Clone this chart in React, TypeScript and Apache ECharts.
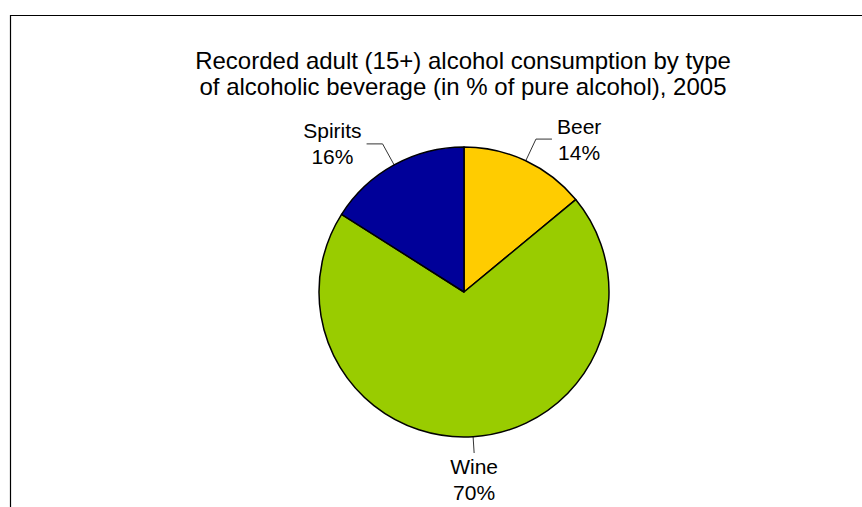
import React, { useEffect, useRef } from 'react';
import * as echarts from 'echarts';

const categories = ['Beer', 'Wine', 'Spirits'];
const shares = [14, 70, 16];
const sliceColors = ['#FFCC00', '#99CC00', '#000099'];
const titleLines = [
  'Recorded adult (15+) alcohol consumption by type',
  'of alcoholic beverage (in % of pure alcohol), 2005',
];

const FONT = '"Liberation Sans", Arial, Helvetica, sans-serif';

export default function App() {
  const ref = useRef<HTMLDivElement>(null);
  useEffect(() => {
    const chart = echarts.init(ref.current!, null, { renderer: 'svg' });
    chart.setOption({
      animation: false,
      backgroundColor: '#ffffff',
      title: {
        text: titleLines.join('\n'),
        left: 458,
        top: 42,
        textAlign: 'center',
        textStyle: {
          fontFamily: FONT,
          fontSize: 24,
          lineHeight: 26,
          fontWeight: 'normal',
          color: '#000',
        },
      },
      graphic: [
        {
          type: 'rect',
          shape: { x: 10.5, y: 15.5, width: 900, height: 600 },
          style: { fill: 'none', stroke: '#000', lineWidth: 1.2 },
          silent: true,
        },
      ],
      series: [
        {
          type: 'pie',
          center: [464, 292],
          radius: 145,
          startAngle: 90,
          clockwise: true,
          data: categories.map((c, i) => ({
            name: c,
            value: shares[i],
            itemStyle: { color: sliceColors[i] },
          })),
          itemStyle: { borderColor: '#000', borderWidth: 1.5 },
          label: {
            show: true,
            position: 'outside',
            distanceToLabelLine: 5,
            formatter: (p: any) => `{n|${p.name}}\n{n|${p.value}%}`,
            rich: {
              n: {
                fontFamily: FONT,
                fontSize: 21,
                lineHeight: 26,
                align: 'center',
                color: '#000',
              },
            },
          },
          labelLine: {
            show: true,
            length: 24,
            length2: 16,
            lineStyle: { color: '#333', width: 1 },
          },
          labelLayout: (p: any) => {
            if (p.dataIndex !== 1 || !p.labelLinePoints) return {};
            const a = p.labelLinePoints[0];
            const b = p.labelLinePoints[1];
            const e = [a[0] + (b[0] - a[0]) * 0.68, a[1] + (b[1] - a[1]) * 0.68];
            return {
              x: e[0],
              y: e[1],
              align: 'center',
              verticalAlign: 'top',
              labelLinePoints: [a, e, e],
            };
          },
        },
      ],
    });
    return () => chart.dispose();
  }, []);
  return (
    <div
      ref={ref}
      style={{ position: 'fixed', left: 0, top: 0, width: 862, height: 507 }}
    />
  );
}
